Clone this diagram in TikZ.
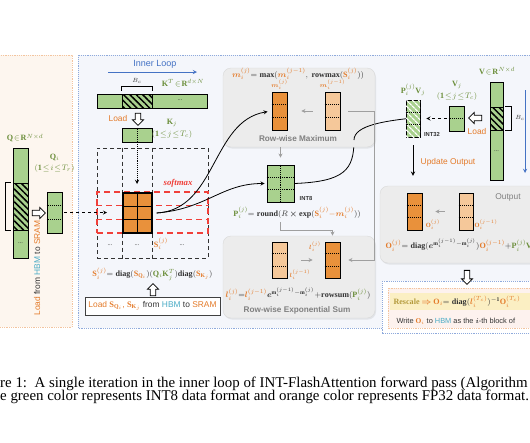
\documentclass[tikz,border=0pt]{standalone}
\usepackage{amsmath,amssymb}
\usepackage{fontspec}
\setmainfont{Liberation Serif}
\setsansfont{Liberation Sans}
\usetikzlibrary{calc,positioning,arrows.meta,shapes.arrows,patterns.meta,shadows}

\definecolor{grnfill}{HTML}{A9D18E}
\definecolor{grntxt}{HTML}{6B8E3A}
\definecolor{orafill}{HTML}{E9913B}
\definecolor{oralight}{HTML}{F5C89A}
\definecolor{oratxt}{HTML}{E47B2A}
\definecolor{hbm}{HTML}{4BACC6}
\definecolor{loopblue}{HTML}{4472C4}
\definecolor{panelblue}{HTML}{F4F6FB}
\definecolor{panelpeach}{HTML}{FDF6EF}
\definecolor{pinkbg}{HTML}{FDF2EE}
\definecolor{boxgray}{HTML}{ECECEC}
\definecolor{rescyel}{HTML}{FBEFC3}
\definecolor{rescolive}{HTML}{B49A3C}
\definecolor{txtdark}{HTML}{333333}
\definecolor{softred}{HTML}{F0403A}

\newcommand{\oc}[1]{\textcolor{oratxt}{#1}}
\newcommand{\gc}[1]{\textcolor{grntxt}{#1}}
\newcommand{\hc}[1]{\textcolor{hbm}{#1}}
\newcommand{\rowsof}[2]{\foreach \f in {0.3333,0.6667}
  \draw[#2] ($(#1.north west)!\f!(#1.south west)$) -- ($(#1.north east)!\f!(#1.south east)$);}

\tikzset{>=stealth,
  blk/.style={draw=black, line width=0.9pt, inner sep=0pt},
  gblk/.style={blk, fill=grnfill},
  oblk/.style={blk, fill=orafill},
  lblk/.style={blk, fill=oralight},
  hatch/.style={blk, fill=grnfill, postaction={pattern={Lines[angle=-45,distance=4.5pt,line width=1.5pt]}, pattern color=black}},
  whatch/.style={blk, fill=grnfill, postaction={pattern={Lines[angle=-45,distance=4pt,line width=1.3pt]}, pattern color=white}},
  rowdot/.style={densely dotted, line width=0.9pt},
  gridln/.style={line width=1.2pt},
  hollow/.style={single arrow, draw=black, fill=white, line width=0.8pt, inner sep=2pt, minimum height=13pt, minimum width=11pt, single arrow head extend=2.5pt},
  graybox/.style={rounded corners=8pt, fill=boxgray, draw=gray!30, drop shadow={opacity=0.15, shadow xshift=1pt, shadow yshift=-1.5pt}},
  grayarr/.style={draw=gray!75, line width=0.9pt, -{Stealth[length=4pt,width=4pt]}},
  blkdash/.style={draw=black!80, line width=1pt, dash pattern=on 4pt off 3pt},
  reddash/.style={draw=softred, line width=1.1pt, dash pattern=on 6pt off 4pt},
  frm/.style={text=txtdark, font=\fontsize{8.1}{9}\selectfont},
  lab/.style={text=txtdark, font=\fontsize{6.4}{7}\selectfont},
  sans/.style={text=txtdark, font=\sffamily\fontsize{8.4}{9}\selectfont},
  tag/.style={text=txtdark, font=\sffamily\bfseries\fontsize{5.8}{6}\selectfont},
}

\begin{document}
\begin{tikzpicture}[x=1pt,y=-1pt]
\useasboundingbox (0,0) rectangle (530,442);
% panels
\filldraw[fill=panelpeach, draw=oratxt!45, densely dotted, line width=0.8pt] (-5,55) rectangle (72,327);
\filldraw[fill=panelblue, draw=loopblue!60, densely dotted, line width=0.9pt] (78,55) rectangle (545,328);
\filldraw[fill=white, draw=loopblue!60, densely dotted, line width=0.9pt] (382,281) rectangle (545,333);
\filldraw[fill=pinkbg, draw=oratxt!45, densely dotted, line width=0.8pt] (388,288) rectangle (545,328);
\fill[rescyel] (390,293) rectangle (545,310);

% Q and its block
\node[frm, text=grntxt] (qlab) at (25,138) {$\mathbf{Q}\!\in\!\mathbf{R}^{N\times d}$};
\node[gblk, minimum width=15pt, minimum height=110pt] (qmat) at (20.5,203) {};
\node[hatch, minimum width=15pt, minimum height=47pt] (qhat) at (20.5,206.5) {};
\node[lab] (qdots) at (20.5,243) {...};
\draw[line width=0.6pt] ([xshift=-2pt]qhat.north west) -| ([xshift=-7pt]qhat.south west) -- ([xshift=-2pt]qhat.south west);
\node[lab, anchor=east] (brlab) at (4.5,206) {$B_r$};
\node[frm, text=grntxt] (qilab) at (54.5,157) {$\mathbf{Q}_i$};
\node[frm, text=grntxt] (qirng) at (54.5,168) {$(\mathbf{1}\!\le\! i\!\le\! T_r)$};
\node[gblk, minimum width=15pt, minimum height=41pt] (qi) at (54.5,212.5) {};
\rowsof{qi}{rowdot}
\node[hollow] (qarr) at (37.5,213) {};
\node[sans, rotate=90] (ldq) at (37,268) {\oc{Load} from \hc{HBM} to \oc{SRAM}};

% inner loop, K
\node[sans, text=loopblue, font=\sffamily\fontsize{9}{10}\selectfont] (iltxt) at (155,64) {Inner Loop};
\coordinate (ilA) at (108,72);
\coordinate (ilB) at (197,72);
\draw[->, loopblue, line width=0.9pt] (ilA) -- (ilB);
\node[gblk, minimum width=110pt, minimum height=14pt] (kt) at (152,101) {};
\node[hatch, minimum width=30pt, minimum height=14pt] (kthat) at (137,101) {};
\node[lab] (ktdots) at (180,100) {...};
\draw[line width=0.6pt] ([yshift=3pt]kthat.north west) |- ([yshift=7pt]kthat.north east) -- ([yshift=3pt]kthat.north east);
\node[lab] (bclab) at (137,81) {$B_c$};
\node[frm, text=grntxt] (ktlab) at (183,83) {$\mathbf{K}^T\!\in\!\mathbf{R}^{d\times N}$};
\node[hollow, rotate=-90, minimum height=12pt] (karr) at (138,118) {};
\node[sans, text=oratxt] (ldk) at (118,118) {Load};
\node[gblk, minimum width=30pt, minimum height=14pt] (kj) at (137,135) {};
\draw[rowdot] (kj.north) -- (kj.south);
\node[frm, text=grntxt] (kjlab) at (172,123) {$\mathbf{K}_j$};
\node[frm, text=grntxt] (kjrng) at (172,134) {$(\mathbf{1}\!\le\! j\!\le\! T_c)$};

% S block
\node[blkdash, minimum width=111pt, minimum height=110pt] (sbox) at (152.5,203) {};
\node[reddash, minimum width=111pt, minimum height=41pt] (srow) at (152.5,212.5) {};
\draw[reddash] ($(srow.north west)!0.3333!(srow.south west)$) -- ($(srow.north east)!0.3333!(srow.south east)$);
\draw[reddash] ($(srow.north west)!0.6667!(srow.south west)$) -- ($(srow.north east)!0.6667!(srow.south east)$);
\node[oblk, line width=1.2pt, minimum width=29pt, minimum height=40pt] (sgrid) at (137.5,213) {};
\draw[blkdash] (sgrid.west |- sbox.north) -- (sgrid.north west);
\draw[blkdash] (sgrid.east |- sbox.north) -- (sgrid.north east);
\draw[blkdash] (sgrid.south west) -- (sgrid.west |- sbox.south);
\draw[blkdash] (sgrid.south east) -- (sgrid.east |- sbox.south);
\draw[gridln] (sgrid.north) -- (sgrid.south);
\rowsof{sgrid}{gridln}
\coordinate (kdn) at (137,184);
\draw[densely dotted, ->, line width=0.9pt] (kj.south) -- (kdn);
\coordinate (sin) at (107,212.5);
\draw[dashed, ->, line width=0.8pt, shorten <=2pt] (qi.east) -- (sin);
\node[font=\bfseries\itshape\fontsize{8.8}{9}\selectfont, text=softred] (smax) at (178,183) {softmax};
\node[lab] (sd1) at (110,245) {...};
\node[lab] (sd2) at (137,245) {...};
\node[frm, text=oratxt] (sij) at (161,244) {$\mathbf{S}_i^{(j)}$};
\node[lab] (sd3) at (182,245) {...};
\node[frm] (sform) at (152.5,274) {$\oc{\mathbf{S}_i^{(j)}}\mathbf{=diag(}\oc{\mathbf{S}_{\mathbf{Q}_i}}\mathbf{)(}\gc{\mathbf{Q}_i\mathbf{K}_j^T}\mathbf{)diag(}\oc{\mathbf{S}_{\mathbf{K}_j}}\mathbf{)}$};
\node[draw=black!75, fill=white, line width=0.8pt, minimum width=129pt, minimum height=18pt, sans] (ldbox) at (152.5,306) {\oc{Load $\mathbf{S}_{\mathbf{Q}_i}$, $\mathbf{S}_{\mathbf{K}_j}$} from \hc{HBM} to \oc{SRAM}};
\node[hollow, rotate=90, minimum height=12pt] (uparr) at (153,291) {};

% P to PV (behind row-wise max)
\node[gblk, minimum width=27pt, minimum height=37pt] (pmat) at (280.5,183.5) {};
\coordinate (bend) at (354,140);
\draw[line width=0.8pt] (pmat.east) .. controls +(50,-2) and +(0,30) .. (bend);

% row-wise maximum
\node[graybox, minimum width=152pt, minimum height=79pt] (rmbox) at (299,107.5) {};
\node[frm] (mform) at (298,74) {$\oc{\boldsymbol{m}_i^{(j)}}\mathbf{=max(}\oc{\boldsymbol{m}_i^{(j-1)}}\mathbf{,\ rowmax(}\oc{\mathbf{S}_i^{(j)}}\mathbf{))}$};
\node[lab, text=oratxt] (mijlab) at (279.5,85) {$\boldsymbol{m}_i^{(j)}$};
\node[lab, text=oratxt] (mij1lab) at (332.5,85) {$\boldsymbol{m}_i^{(j-1)}$};
\node[oblk, minimum width=15pt, minimum height=38pt] (mij) at (279.5,111) {};
\node[lblk, minimum width=15pt, minimum height=38pt] (mij1) at (332.5,111) {};
\rowsof{mij}{rowdot}
\rowsof{mij1}{rowdot}
\draw[grayarr, shorten <=12pt, shorten >=14pt] (mij1.west) -- (mij.east);
\node[sans, text=gray, font=\sffamily\bfseries\fontsize{8.2}{9}\selectfont] (rmtxt) at (298,139) {Row-wise Maximum};

% P block
\draw[grayarr, shorten >=7pt] (rmbox.south -| pmat.north) -- (pmat.north);
\draw[rowdot] (pmat.north) -- (pmat.south);
\rowsof{pmat}{rowdot}
\node[tag] (int8) at (306,198) {INT8};
\node[frm] (pform) at (297,213) {$\gc{\mathbf{P}_i^{(j)}}\mathbf{=round(}R\boldsymbol{\times}\mathbf{exp(}\oc{\mathbf{S}_i^{(j)}\mathbf{-}\boldsymbol{m}_i^{(j)}}\mathbf{))}$};
\draw[line width=0.8pt, ->] (bend) .. controls +(0,-15) and +(-25,3) .. ([xshift=-1pt]413,118);

% curves from S
\draw[line width=0.8pt, ->, shorten >=4pt] ([xshift=4pt]sgrid.east) .. controls +(60,-3) and +(-60,10) .. (mij.west);
\draw[line width=0.8pt, ->, shorten >=2pt] ([xshift=4pt]sgrid.east) .. controls +(50,-4) and +(-45,0) .. (pmat.west);

% row-wise exponential sum
\node[graybox, minimum width=152pt, minimum height=82pt] (rsbox) at (299,277) {};
\node[lblk, minimum width=15pt, minimum height=36pt] (lij1) at (279.5,260) {};
\node[oblk, minimum width=15pt, minimum height=36pt] (lij) at (332.5,260) {};
\rowsof{lij1}{rowdot}
\rowsof{lij}{rowdot}
\node[lab, text=oratxt] (lij1lab) at (300,275) {$\boldsymbol{l}_i^{(j-1)}$};
\node[lab, text=oratxt] (lijlab) at (315,247) {$\boldsymbol{l}_i^{(j)}$};
\draw[grayarr, shorten <=14pt, shorten >=12pt] (lij1.east) -- (lij.west);
\node[frm] (lform) at (298,294) {$\oc{\boldsymbol{l}_i^{(j)}}\mathbf{=}\oc{\boldsymbol{l}_i^{(j-1)}}\boldsymbol{e}^{\mathbf{m}_i^{(j-1)}-\mathbf{m}_i^{(j)}}\mathbf{+rowsum(}\gc{\mathbf{P}_i^{(j)}}\mathbf{)}$};
\node[sans, text=gray, font=\sffamily\bfseries\fontsize{8.2}{9}\selectfont] (rstxt) at (297,310) {Row-wise Exponential Sum};
\draw[grayarr, shorten >=6pt] (pform.south -| pmat.south) -- ++(0,8) -| (lij.north);
\draw[grayarr, shorten <=8pt, shorten >=8pt] (mij1.east) -- ++(34,0) |- (lij.east);

% V side
\node[frm, text=grntxt] (vlab) at (497,71) {$\mathbf{V}\!\in\!\mathbf{R}^{N\times d}$};
\node[gblk, minimum width=13pt, minimum height=98pt] (vmat) at (496.5,131) {};
\node[hatch, minimum width=13pt, minimum height=23pt] (vhat) at (496.5,118.5) {};
\node[lab] (vdots) at (496.5,151) {...};
\draw[line width=0.6pt] ([xshift=2pt]vhat.north east) -| ([xshift=8pt]vhat.south east) -- ([xshift=2pt]vhat.south east);
\node[lab] (bclab2) at (520,118) {$B_c$};
\coordinate (olt) at (525,90);
\coordinate (olb) at (525,173);
\draw[->, loopblue, line width=0.9pt] (olt) -- (olb);
\node[hollow, rotate=180] (varr) at (476.5,118) {};
\node[sans, text=oratxt] (ldv) at (477,131) {Load};
\node[gblk, minimum width=15pt, minimum height=25pt] (vj) at (456.5,118.5) {};
\draw[rowdot] (vj.west) -- (vj.east);
\node[frm, text=grntxt] (vjlab) at (457,85) {$\mathbf{V}_j$};
\node[frm, text=grntxt] (vjrng) at (457,96) {$(\mathbf{1}\!\le\! j\!\le\! T_c)$};
\node[whatch, minimum width=14pt, minimum height=37pt] (pv) at (413,118.5) {};
\rowsof{pv}{rowdot}
\draw[dashed, ->, line width=0.8pt, shorten <=2pt, shorten >=6pt] (vj.west) -- (pv.east);
\node[frm, text=grntxt] (pvlab) at (413,90) {$\mathbf{P}_i^{(j)}\mathbf{V}_j$};
\node[tag] (int32) at (432,135) {INT32};

% output
\node[graybox, minimum width=165pt, minimum height=77pt] (outbox) at (462.5,224.5) {};
\draw[->, line width=0.9pt, shorten <=8pt, shorten >=10pt] (pv.south) -- (pv.south |- outbox.north);
\node[sans, text=oratxt] (updt) at (448,162) {Update Output};
\node[sans, text=gray] (outtxt) at (508,197) {Output};
\node[oblk, minimum width=15pt, minimum height=37pt] (oij) at (414.5,211.5) {};
\node[lblk, minimum width=14pt, minimum height=37pt] (oij1) at (466,211.5) {};
\rowsof{oij}{rowdot}
\rowsof{oij1}{rowdot}
\node[lab, text=oratxt] (oijlab) at (433,225) {$\mathbf{O}_i^{(j)}$};
\node[lab, text=oratxt] (oij1lab) at (486,225) {$\mathbf{O}_i^{(j-1)}$};
\draw[grayarr, shorten <=14pt, shorten >=13pt] (oij1.west) -- (oij.east);
\node[frm, anchor=west] (oform) at (382,245) {$\oc{\mathbf{O}_i^{(j)}}\mathbf{=diag(}\boldsymbol{e}^{\mathbf{m}_i^{(j-1)}-\mathbf{m}_i^{(j)}}\mathbf{)}\oc{\mathbf{O}_i^{(j-1)}}\mathbf{+}\gc{\mathbf{P}_i^{(j)}\mathbf{V}_j}$};
\node[hollow, rotate=-90, minimum height=14pt] (dnarr) at (467,276) {};

% rescale
\node[frm, anchor=west] (rescl) at (390,301.5) {\textbf{\textcolor{rescolive}{Rescale}} \oc{$\boldsymbol{\Rightarrow}$} $\oc{\mathbf{O}_i}\mathbf{=diag(}\oc{\boldsymbol{l}_i^{(T_c)}}\mathbf{)^{-1}}\oc{\mathbf{O}_i^{(T_c)}}$};
\node[sans, anchor=west, font=\sffamily\fontsize{7.4}{8}\selectfont] (wrt) at (393,321) {Write \oc{$\mathbf{O}_i$} to \hc{HBM} as the $\boldsymbol{i}$-th block of};

% caption
\node[anchor=base west, font=\fontsize{14.9}{13}\selectfont, inner sep=0pt] (cap1) at (0,387) {re 1:\ \ A single iteration in the inner loop of INT-FlashAttention forward pass (Algorithm};
\node[anchor=base west, font=\fontsize{14.9}{13}\selectfont, inner sep=0pt] (cap2) at (0,400.5) {e green color represents INT8 data format and orange color represents FP32 data format.};
\end{tikzpicture}
\end{document}
